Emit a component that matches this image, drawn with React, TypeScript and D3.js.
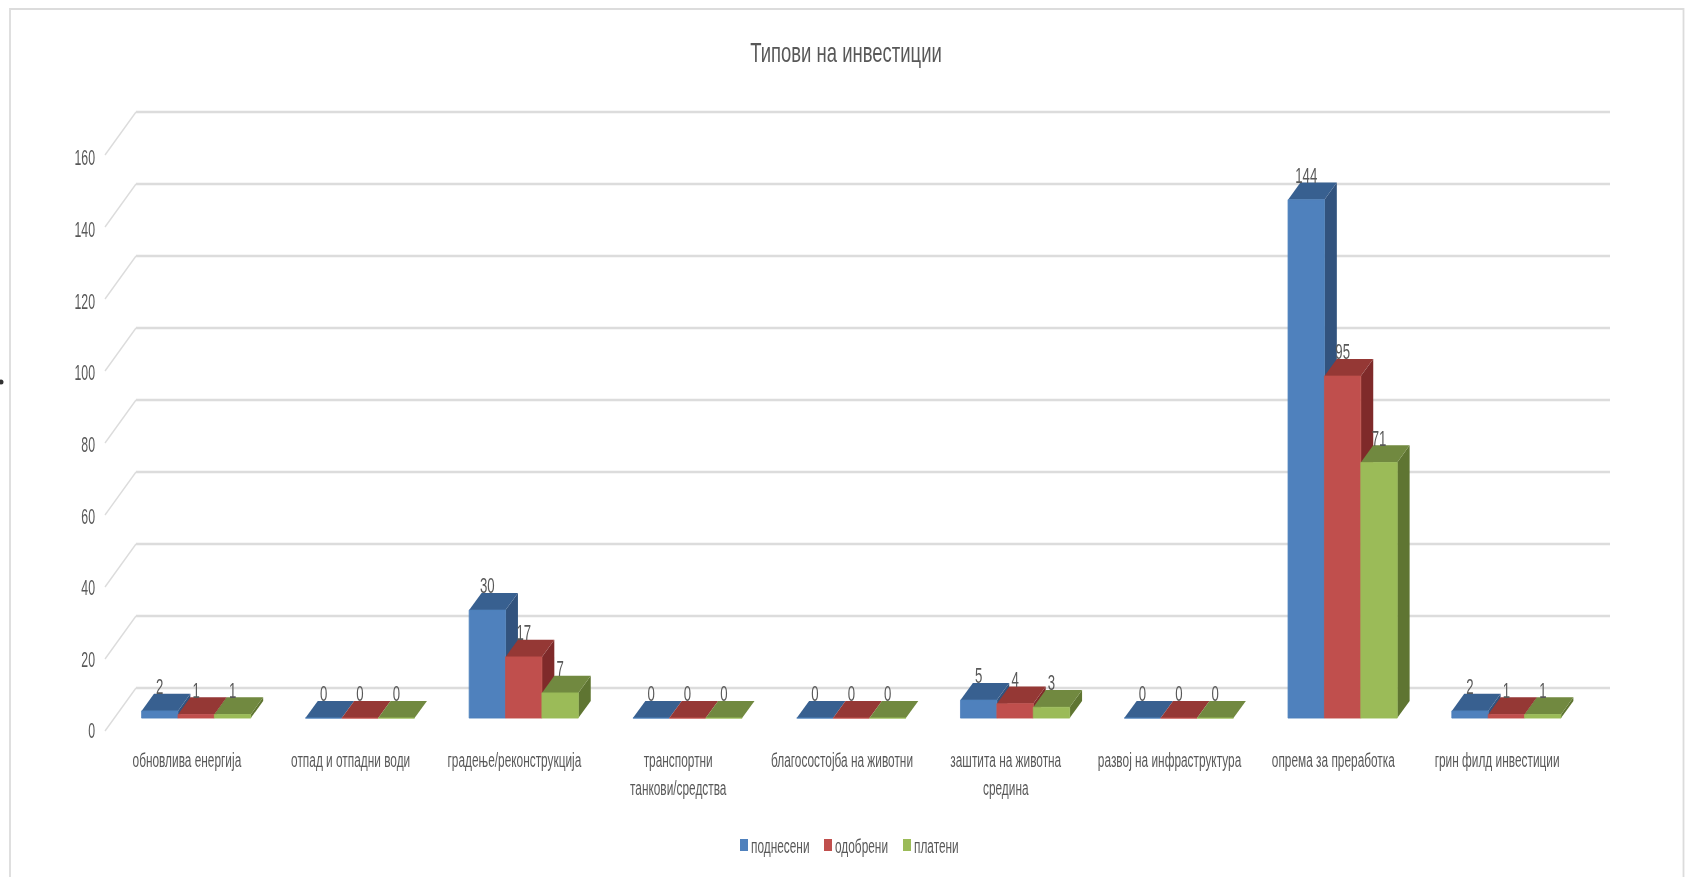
import * as d3 from 'd3'

const categories = [
  ['обновлива енергија'],
  ['отпад и отпадни води'],
  ['градење/реконструкција'],
  ['транспортни', 'танкови/средства'],
  ['благосостојба на животни'],
  ['заштита на животна', 'средина'],
  ['развој на инфраструктура'],
  ['опрема за преработка'],
  ['грин филд инвестиции'],
]
const seriesNames = ['поднесени', 'одобрени', 'платени']
const podneseni = [2, 0, 30, 0, 0, 5, 0, 144, 2]
const odobreni = [1, 0, 17, 0, 0, 4, 0, 95, 1]
const plateni = [1, 0, 7, 0, 0, 3, 0, 71, 1]
const yTicks = [0, 20, 40, 60, 80, 100, 120, 140, 160]

const seriesValues = [podneseni, odobreni, plateni]
const FRONT = ['#4f81bd', '#c0504d', '#9bbb59']
const TOP = ['#396090', '#953735', '#71893f']
const SIDE = ['#31537e', '#7f2c2a', '#5f7530']
const TEXT = '#595959'
const GRID = '#dcdcdc'
const FONT = '"Liberation Sans", sans-serif'

const WIDTH = 1687
const HEIGHT = 877
const DEPTH_X = 31
const DEPTH_Y = 43

const x = d3.scaleBand()
  .domain(categories.map((_, i) => String(i)))
  .range([105, 1579])
  .paddingInner(1 / 3)
  .paddingOuter(1 / 6)
const xBar = d3.scaleBand()
  .domain(seriesNames)
  .range([0, x.bandwidth()])
const y = d3.scaleLinear().domain([0, 160]).range([731, 155])
// the axis labels run a touch tighter than the gridlines
const yLabel = d3.scaleLinear().domain([0, 160]).range([731, 158])

// simple oblique projection, z 0 = front of the floor, 1 = back wall
const project = (px: number, v: number, z: number): [number, number] => [
  px + z * DEPTH_X,
  y(v) - z * DEPTH_Y,
]
const poly = (pts: [number, number][]) => d3.line()(pts) + 'Z'

function Squeezed({ px, py, size, scale = 0.565, anchor = 'middle', children }: {
  px: number; py: number; size: number; scale?: number; anchor?: string; children: string
}) {
  return (
    <text
      transform={`translate(${px},${py}) scale(${scale},1)`}
      textAnchor={anchor}
      dominantBaseline="central"
      fontSize={size}
      fontFamily={FONT}
      fill={TEXT}
    >
      {children}
    </text>
  )
}

const Z0 = 0.3
const Z1 = 0.7

export default function App() {
  const bars = categories.flatMap((_, c) =>
    seriesNames.map((name, s) => {
      const x0 = x(String(c))! + xBar(name)!
      return { c, s, x0, x1: x0 + xBar.bandwidth(), v: seriesValues[s][c] }
    }),
  )

  return (
    <svg
      width={WIDTH}
      height={HEIGHT}
      style={{ position: 'absolute', left: 0, top: 0, background: '#fff' }}
    >
      <defs>
        <filter id="soft" x="-2%" y="-2%" width="104%" height="104%">
          <feGaussianBlur stdDeviation="0.5" />
        </filter>
      </defs>
      <g filter="url(#soft)">
        <path d={`M10,${HEIGHT}V9H1683.5V${HEIGHT}`} fill="none" stroke={GRID} strokeWidth={1.8} />
        <circle cx={1} cy={382} r={2.5} fill="#333" />

        <Squeezed px={846} py={53} size={28} scale={0.66}>Типови на инвестиции</Squeezed>

        {yTicks.map(t => {
          const [fx, fy] = project(105, t, 0)
          const [bx, by] = project(105, t, 1)
          const [ex] = project(1579, t, 1)
          return (
            <g key={t}>
              <path d={`M${fx},${fy}L${bx},${by}`} fill="none" stroke={GRID} strokeWidth={1.4} />
              <path d={`M${bx},${by}H${ex}`} fill="none" stroke={GRID} strokeWidth={2.4} />
              <Squeezed px={95} py={yLabel(t)} size={22} scale={0.56} anchor="end">{String(t)}</Squeezed>
            </g>
          )
        })}

        {bars.map(b => (
          <g key={`${b.c}-${b.s}`}>
            <path
              d={poly([project(b.x1, 0, Z0), project(b.x1, 0, Z1), project(b.x1, b.v, Z1), project(b.x1, b.v, Z0)])}
              fill={SIDE[b.s]}
            />
            <path
              d={poly([project(b.x0, b.v, Z0), project(b.x1, b.v, Z0), project(b.x1, b.v, Z1), project(b.x0, b.v, Z1)])}
              fill={TOP[b.s]}
            />
            <path
              d={poly([project(b.x0, 0, Z0), project(b.x1, 0, Z0), project(b.x1, b.v, Z0), project(b.x0, b.v, Z0)])}
              fill={FRONT[b.s]}
              stroke={FRONT[b.s]}
              strokeWidth={0.8}
            />
          </g>
        ))}

        {bars.map(b => {
          const [tx] = project((b.x0 + b.x1) / 2, b.v, Z0)
          const [, backY] = project(b.x0, b.v, Z1)
          return (
            <Squeezed key={`${b.c}-${b.s}`} px={tx} py={backY - 7} size={22} scale={0.6}>
              {String(b.v)}
            </Squeezed>
          )
        })}

        {categories.map((lines, c) => (
          <g key={c}>
            {lines.map((line, i) => (
              <Squeezed key={line} px={x(String(c))! + x.bandwidth() / 2} py={760 + i * 28} size={21}>
                {line}
              </Squeezed>
            ))}
          </g>
        ))}

        {seriesNames.map((name, s) => {
          const lx = [740, 824, 903][s]
          return (
            <g key={name}>
              <rect x={lx} y={839} width={8} height={12} fill={FRONT[s]} />
              <Squeezed px={lx + 11} py={846} size={21} anchor="start">{name}</Squeezed>
            </g>
          )
        })}
      </g>
    </svg>
  )
}
